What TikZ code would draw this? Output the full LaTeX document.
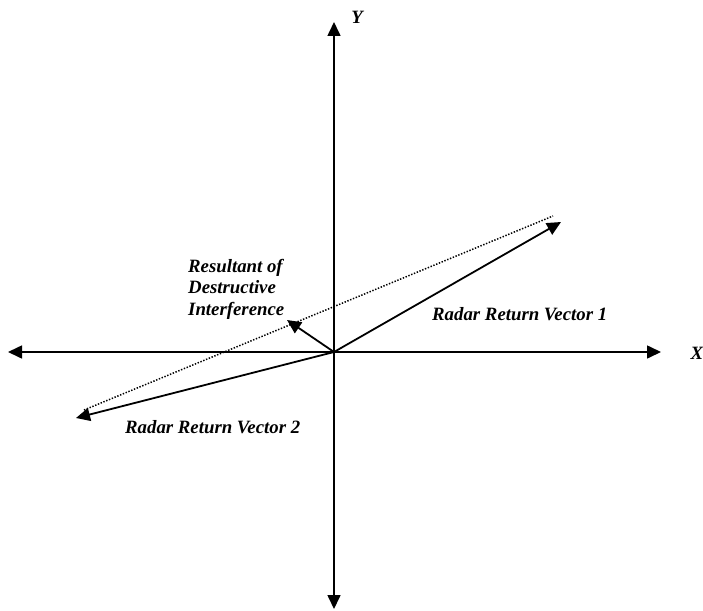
\documentclass[tikz,border=0pt]{standalone}
\usepackage{fontspec}
\setmainfont{Liberation Serif}
\usetikzlibrary{arrows.meta}
\begin{document}
\begin{tikzpicture}[x=1pt,y=-1pt,
  tipped/.style={-{Triangle[length=14pt,width=13pt]}},
  bothtipped/.style={{Triangle[length=14pt,width=13pt]}-{Triangle[length=14pt,width=13pt]}},
  axisline/.style={line width=1.6pt},
  vecline/.style={line width=1.8pt},
  dotline/.style={line width=1.5pt, dash pattern=on 1.4pt off 1.6pt},
  lbl/.style={font=\fontsize{18.8}{21.5}\selectfont\bfseries\itshape, inner sep=0pt}]
\useasboundingbox (0,0) rectangle (703,610);
\coordinate (O) at (334,352);
\coordinate (xL) at (8,352);
\coordinate (xR) at (661,352);
\coordinate (yT) at (334,22);
\coordinate (yB) at (334,609);
\coordinate (v1) at (561,222);
\coordinate (v2) at (76,418);
\coordinate (r) at (287,320);
\coordinate (d1) at (84,410);
\coordinate (d2) at (553,216);
% axes
\draw[axisline,bothtipped] (xL) -- (xR);
\draw[axisline,bothtipped] (yB) -- (yT);
% dotted parallelogram side
\draw[dotline] (d1) -- (d2);
% vectors
\draw[vecline,tipped] (O) -- (v1);
\draw[vecline,tipped] (O) -- (v2);
\draw[vecline,tipped] (O) -- (r);
% labels
\node[lbl,anchor=center] (ylab) at (357,17) {Y};
\node[lbl,anchor=center] (xlab) at (697,353) {X};
\node[lbl,anchor=base west] (l1) at (432,320) {Radar Return Vector 1};
\node[lbl,anchor=base west] (l2) at (125,433) {Radar Return Vector 2};
\node[lbl,anchor=base west] (ra) at (188,272) {Resultant of};
\node[lbl,anchor=base west] (rb) at (188,293.5) {Destructive};
\node[lbl,anchor=base west] (rc) at (188,315) {Interference};
\end{tikzpicture}
\end{document}
